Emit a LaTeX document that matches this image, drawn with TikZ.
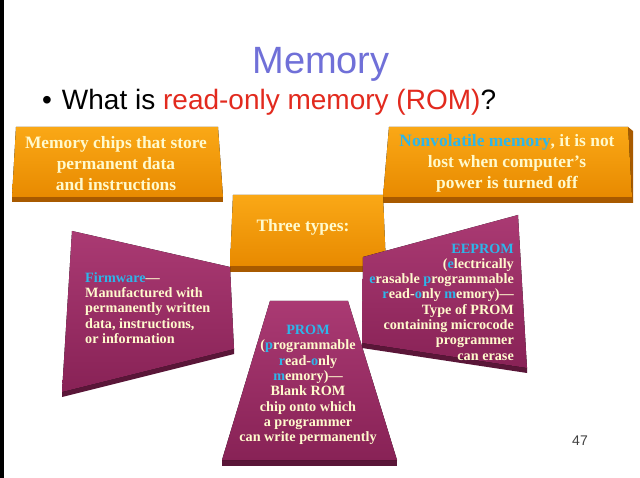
\documentclass[tikz,border=0pt]{standalone}
\usepackage{fontspec}
\setmainfont{Liberation Serif}
\newfontfamily\arialf{Liberation Sans}
\definecolor{orgA}{RGB}{250,168,22}
\definecolor{orgB}{RGB}{232,138,0}
\definecolor{orgD}{RGB}{168,90,0}
\definecolor{magA}{RGB}{170,58,115}
\definecolor{magB}{RGB}{136,34,86}
\definecolor{magD}{RGB}{90,22,56}
\definecolor{cream}{RGB}{255,250,205}
\definecolor{hlcol}{RGB}{45,182,234}
\definecolor{titleblue}{RGB}{112,112,216}
\definecolor{romred}{RGB}{226,42,30}
\newcommand\hlt[1]{\textcolor{hlcol}{#1}}
\tikzset{
  orangebox/.style={top color=orgA, bottom color=orgB, draw=none},
  orangeedge/.style={fill=orgD, draw=none},
  magbox/.style={top color=magA, bottom color=magB, draw=none},
  magedge/.style={fill=magD, draw=none},
  bigtext/.style={font=\bfseries\fontsize{17.4}{21}\selectfont, text=cream, inner sep=0pt},
  smalltext/.style={font=\bfseries\fontsize{14.2}{15.3}\selectfont, text=cream, inner sep=0pt},
}
\begin{document}
\begin{tikzpicture}[x=1pt,y=-1pt]
\useasboundingbox (0,0) rectangle (640,478);
\fill[white] (0,0) rectangle (640,478);
\fill[black] (0,0) rectangle (4,478);
% title
\node[font=\arialf\fontsize{38}{40}\selectfont, text=titleblue, anchor=base, inner sep=0pt] (title) at (321,74) {Memory};
\node[font=\arialf\fontsize{28}{30}\selectfont, anchor=base west, inner sep=0pt] (bullet) at (42,110) {\textbullet\hspace{10pt}What is \textcolor{romred}{read-only memory (ROM)}?};
\node[font=\arialf\fontsize{14}{16}\selectfont, text=black!75, inner sep=0pt] (pagenum) at (580,441) {47};
% top-left orange
\fill[orangeedge] (12,196) -- (223,196) -- (223,202) -- (12,202) -- cycle;
\fill[orangebox] (16,127) -- (218,127) -- (223,197) -- (12,197) -- cycle;
\node[bigtext, align=center] (tl) at (116,164) {Memory chips that store\\permanent data\\and instructions};
% top-right orange
\fill[orangeedge] (628,127) -- (633,131) -- (633,203) -- (383,203) -- (383,196) -- cycle;
\fill[orangebox] (389,127) -- (628,127) -- (632,197) -- (383,197) -- cycle;
\node[bigtext, align=center] (tr) at (507,163) {\hlt{Nonvolatile memory}, it is not\\lost when computer’s\\power is turned off};
% center orange
\fill[orangeedge] (230,265) -- (386,265) -- (386,272) -- (230,272) -- cycle;
\fill[orangebox] (233,195) -- (383,195) -- (386,266) -- (230,266) -- cycle;
\node[bigtext, anchor=base] (three) at (303,232) {Three types:};
% firmware
\fill[magedge] (62,391) -- (234,348) -- (234,354) -- (62,397) -- cycle;
\fill[magbox] (72,231) -- (230,267) -- (234,349) -- (62,392) -- cycle;
\node[smalltext, align=left, anchor=west] (fw) at (85,308) {\hlt{Firmware}—\\Manufactured with\\permanently written\\data, instructions,\\or information};
% EEPROM
\fill[magedge] (362,342) -- (527,367) -- (527,373) -- (362,348) -- cycle;
\fill[magbox] (363,257) -- (518,215) -- (527,368) -- (362,343) -- cycle;
\node[smalltext, align=right, anchor=east] (ee) at (514,302) {\hlt{EEPROM}\\(\hlt{e}lectrically\\\hlt{e}rasable \hlt{p}rogrammable\\\hlt{r}ead-\hlt{o}nly \hlt{m}emory)—\\Type of PROM\\containing microcode\\programmer\\can erase};
% PROM
\fill[magedge] (222,459) -- (397,459) -- (397,466) -- (222,466) -- cycle;
\fill[magbox] (270,301) -- (348,301) -- (397,460) -- (222,460) -- cycle;
\node[smalltext, align=center] (prom) at (308,385) {\hlt{PROM}\\(\hlt{p}rogrammable\\\hlt{r}ead-\hlt{o}nly\\\hlt{m}emory)—\\Blank ROM\\chip onto which\\a programmer\\can write permanently};
\end{tikzpicture}
\end{document}
